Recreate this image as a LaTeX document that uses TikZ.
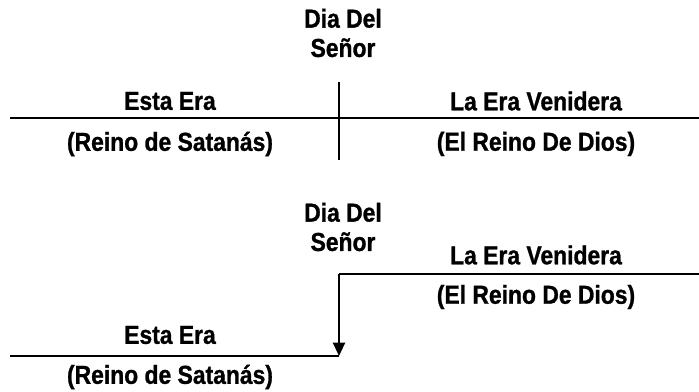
\documentclass[tikz,border=0pt]{standalone}
\usepackage{fontspec}
\setmainfont[FakeStretch=0.88,FakeBold=1]{Liberation Sans}
\usetikzlibrary{arrows.meta}
\begin{document}
\begin{tikzpicture}[x=0.75pt,y=-0.75pt,
    lbl/.style={font=\bfseries\fontsize{19.5}{22}\selectfont, inner sep=0pt, align=center},
    rule/.style={line width=1.5pt}]
    \useasboundingbox (0,0) rectangle (699,392);

        % upper picture
        \node[lbl] (day1) at (343, 33){Dia Del\\Se\~nor};
        \coordinate (axisL) at (10, 118);
        \coordinate (axisR) at (699, 118);
        \coordinate (markT) at (339, 82);
        \coordinate (markB) at (339, 160);
        \draw[rule] (axisL) to (axisR);
        \draw[rule] (markT) to (markB);

        \node[lbl] (this1) at (170, 101){Esta Era};
        \node[lbl] (come1) at (536, 101){La Era Venidera};
        \node[lbl] (satan1) at (170, 144){(Reino de Satan\'as)};
        \node[lbl] (god1) at (536, 144){(El Reino De Dios)};

        % lower picture
        \node[lbl] (day2) at (343, 227){Dia Del\\Se\~nor};
        \coordinate (highR) at (699, 274);
        \coordinate (stepT) at (339, 274);
        \coordinate (stepB) at (339, 356);
        \coordinate (lowL) at (10, 356);
        \draw[rule] (highR) to (stepT);
        \draw[rule, -{Triangle[length=10pt, width=9pt]}] (stepT) to (stepB);
        \draw[rule] (stepB) to (lowL);

        \node[lbl] (come2) at (536, 255){La Era Venidera};
        \node[lbl] (god2) at (536, 297){(El Reino De Dios)};
        \node[lbl] (this2) at (170, 335){Esta Era};
        \node[lbl] (satan2) at (170, 377){(Reino de Satan\'as)};
\end{tikzpicture}
\end{document}
